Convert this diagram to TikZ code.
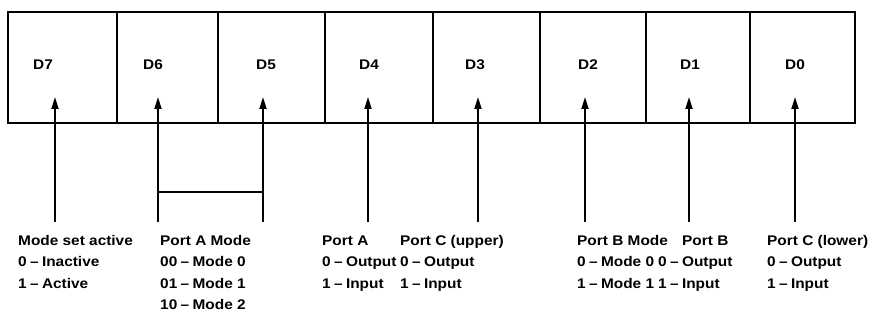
\documentclass[tikz,border=0pt]{standalone}
\usepackage{fontspec}
\setmainfont{Liberation Sans}[FakeStretch=1.1]
\usetikzlibrary{arrows.meta}
\newcommand\dsh{\hspace{0.24em}--\hspace{0.24em}}
\begin{document}
\begin{tikzpicture}[x=1pt,y=-1pt,
  frame/.style={line width=1.8pt},
  divider/.style={line width=1.6pt},
  bitarrow/.style={line width=1.8pt,-{Triangle[width=7pt,length=12pt]}},
  link/.style={line width=1.6pt},
  bitlabel/.style={inner sep=0pt,font=\fontsize{14}{16}\selectfont\bfseries},
  txt/.style={inner sep=0pt,anchor=base west,font=\fontsize{14}{16}\selectfont\bfseries}]
\useasboundingbox (0,0) rectangle (877,323);
% register frame
\draw[frame] (8,12) rectangle (855,123);
\foreach \x in {117,218,325,433,540,646,750}
  \draw[divider] (\x,12) -- (\x,123);
% bit labels
\node[bitlabel] (d7) at (43,65) {D7};
\node[bitlabel] (d6) at (153,65) {D6};
\node[bitlabel] (d5) at (266,65) {D5};
\node[bitlabel] (d4) at (369,65) {D4};
\node[bitlabel] (d3) at (475,65) {D3};
\node[bitlabel] (d2) at (588,65) {D2};
\node[bitlabel] (d1) at (690,65) {D1};
\node[bitlabel] (d0) at (795,65) {D0};
% arrow feet and heads
\foreach \n/\x in {7/55,6/158,5/263,4/368,3/478,2/585,1/689,0/795}{
  \coordinate (f\n) at (\x,222);
  \coordinate (h\n) at (\x,97);
  \draw[bitarrow] (f\n) -- (h\n);
}
\coordinate (l6) at (158,192);
\coordinate (l5) at (263,192);
\draw[link] (l6) -- (l5);
% descriptions
\node[txt] (a1) at (18,245) {Mode set active};
\node[txt] (a2) at (18,266.5) {0\dsh Inactive};
\node[txt] (a3) at (18,288) {1\dsh Active};
\node[txt] (b1) at (160,245) {Port A Mode};
\node[txt] (b2) at (160,266.5) {00\dsh Mode 0};
\node[txt] (b3) at (160,288) {01\dsh Mode 1};
\node[txt] (b4) at (160,309.5) {10\dsh Mode 2};
\node[txt] (c1) at (322,245) {Port A};
\node[txt] (c2) at (322,266.5) {0\dsh Output};
\node[txt] (c3) at (322,288) {1\dsh Input};
\node[txt] (e1) at (400,245) {Port C (upper)};
\node[txt] (e2) at (400,266.5) {0\dsh Output};
\node[txt] (e3) at (400,288) {1\dsh Input};
\node[txt] (g1) at (577,245) {Port B Mode};
\node[txt] (g2) at (577,266.5) {0\dsh Mode 0};
\node[txt] (g3) at (577,288) {1\dsh Mode 1};
\node[txt] (h1) at (682,245) {Port B};
\node[txt] (h2) at (658,266.5) {0\dsh Output};
\node[txt] (h3) at (658,288) {1\dsh Input};
\node[txt] (k1) at (767,245) {Port C (lower)};
\node[txt] (k2) at (767,266.5) {0\dsh Output};
\node[txt] (k3) at (767,288) {1\dsh Input};
\end{tikzpicture}
\end{document}
